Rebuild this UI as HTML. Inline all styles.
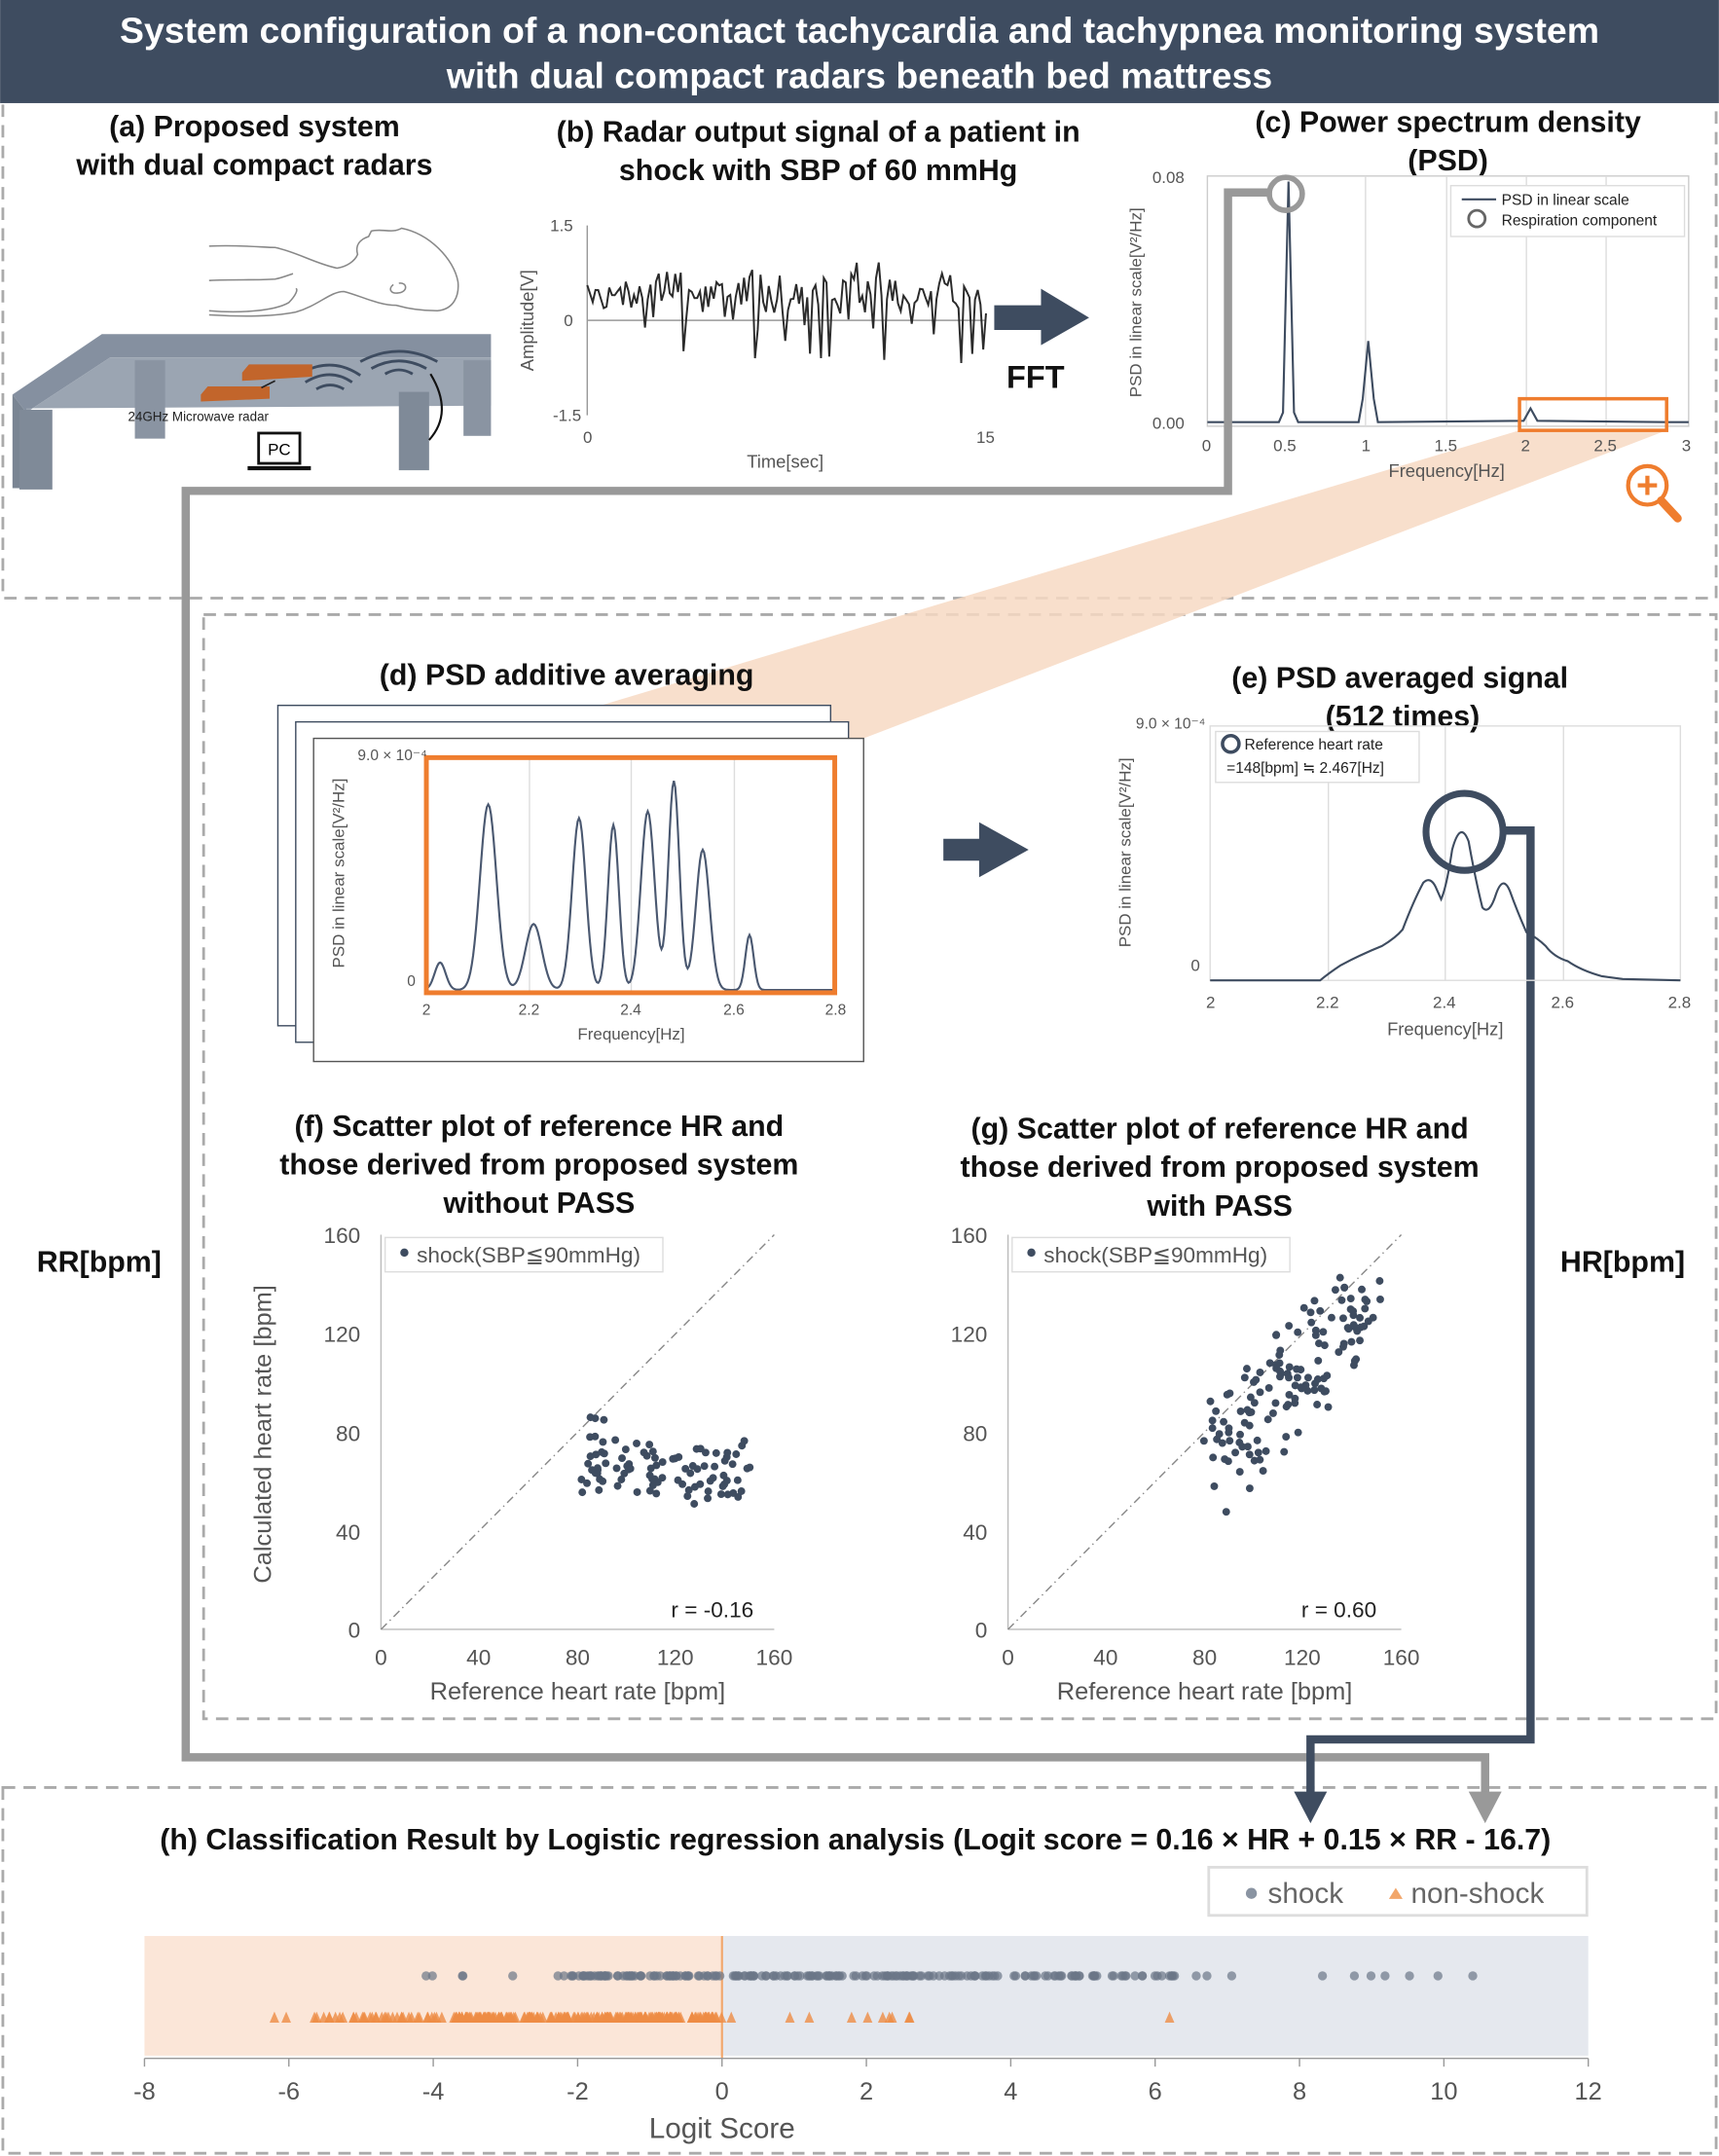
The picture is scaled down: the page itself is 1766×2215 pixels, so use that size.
<!DOCTYPE html>
<html><head><meta charset="utf-8"><style>
html,body{margin:0;padding:0;background:#fff}
svg{display:block}
text{font-family:"Liberation Sans",Arial,sans-serif}
.b{font-weight:bold;fill:#111}
.ax{fill:#555}
</style></head><body>
<svg id="s" width="1766" height="2215" viewBox="0 0 1250 1568" xmlns="http://www.w3.org/2000/svg">
<rect width="1250" height="1568" fill="#fff"/>
<rect x="0" y="0" width="1250" height="75" fill="#3e4c60"/>
<text x="625" y="31" text-anchor="middle" font-size="26.5" font-weight="bold" fill="#fff">System configuration of a non-contact tachycardia and tachypnea monitoring system</text>
<text x="625" y="64" text-anchor="middle" font-size="26.5" font-weight="bold" fill="#fff">with dual compact radars beneath bed mattress</text>
<g fill="none" stroke="#aaa" stroke-width="2" stroke-dasharray="9,6">
<path d="M2 76 V435 H1248 V76"/>
<rect x="148" y="447" width="1100" height="803"/>
<rect x="2" y="1300" width="1246" height="266"/>
</g>
<polygon points="1105,313 1212,313 607,545 310,551" fill="#f7d9c3" opacity="0.85"/>
<!-- (a) -->
<text x="185" y="99" text-anchor="middle" font-size="21.5" class="b">(a)  Proposed system</text>
<text x="185" y="127" text-anchor="middle" font-size="21.5" class="b">with dual compact radars</text>
<g fill="none" stroke="#888" stroke-width="1.1">
<path d="M152 179 C175 178 192 180 200 180 C215 183 230 192 245 195 C252 194 258 190 260 185 C258 178 262 174 268 172 L270 168 C278 166 285 170 292 166 C312 170 330 188 333 205 C334 215 330 225 318 226 C305 226 295 224 288 222 C275 222 262 215 250 212 C240 212 232 222 215 227 C195 231 170 230 152 229"/>
<path d="M152 226 C175 228 200 226 210 220 C215 215 217 210 215 210"/>
<path d="M152 204 C170 203 185 204 200 203 C205 202 210 200 213 199"/>
<path d="M286 207 C282 210 284 214 290 213 C297 212 296 205 290 206"/>
</g>
<polygon points="9,287 74,243 357,243 357,260 80,260 19,300" fill="#8590a0"/>
<polygon points="19,300 80,260 357,260 357,295 19,297" fill="#9ba5b2"/>
<polygon points="9,287 19,300 19,355 9,355" fill="#7a8593"/>
<rect x="14" y="298" width="24" height="58" fill="#7f8a98"/>
<rect x="98" y="262" width="22" height="57" fill="#8a94a2"/>
<rect x="290" y="285" width="22" height="57" fill="#7f8a98"/>
<rect x="337" y="262" width="20" height="55" fill="#8a94a2"/>
<g fill="none" stroke="#3e4c60" stroke-width="2">
<path d="M216 273 Q240 258 262 273"/><path d="M222 278 Q240 267 256 278"/><path d="M230 283 Q240 277 250 283"/>
<path d="M262 263 Q290 248 318 263"/><path d="M270 268 Q290 257 310 268"/><path d="M280 272 Q290 266 300 272"/>
</g>
<polygon points="146,287 151,281 196,281 196,290 146,292" fill="#c2652b"/>
<polygon points="176,271 181,265 227,265 227,274 176,277" fill="#c2652b"/>
<line x1="190" y1="282" x2="200" y2="277" stroke="#222" stroke-width="1.2"/>
<path d="M313 272 Q330 300 312 320" stroke="#111" stroke-width="1.5" fill="none"/>
<text x="93" y="306" font-size="9.5" fill="#222">24GHz Microwave radar</text>
<rect x="188" y="315" width="30" height="22" fill="#fff" stroke="#111" stroke-width="2"/>
<text x="203" y="331" font-size="12" font-family="Liberation Serif" text-anchor="middle">PC</text>
<rect x="180" y="339" width="46" height="3" fill="#111"/>
<!-- (b) -->
<text x="595" y="103" text-anchor="middle" font-size="21.5" class="b">(b) Radar output signal of a patient in</text>
<text x="595" y="131" text-anchor="middle" font-size="21.5" class="b">shock with SBP of 60 mmHg</text>
<line x1="427" y1="164" x2="427" y2="302" stroke="#999"/>
<line x1="427" y1="233" x2="717" y2="233" stroke="#999"/>
<g class="ax" font-size="12"><text x="400" y="168">1.5</text><text x="410" y="237">0</text><text x="402" y="306">-1.5</text><text x="424" y="322">0</text><text x="710" y="322">15</text>
<text x="571" y="340" font-size="13" text-anchor="middle">Time[sec]</text>
<text transform="translate(388,233) rotate(-90)" text-anchor="middle" font-size="13">Amplitude[V]</text></g>
<polyline id="sig" fill="none" stroke="#2b2b2b" stroke-width="1.4"/>
<polygon points="723,222 757,222 757,210 792,231 757,251 757,240 723,240" fill="#3e4c60"/>
<text x="753" y="282" text-anchor="middle" font-size="23" class="b">FFT</text>
<!-- (c) -->
<text x="1053" y="96" text-anchor="middle" font-size="21.5" class="b">(c) Power spectrum density</text>
<text x="1053" y="124" text-anchor="middle" font-size="21.5" class="b">(PSD)</text>
<rect x="878" y="128" width="350" height="182" fill="none" stroke="#ccc"/>
<g stroke="#ddd"><line x1="993" y1="128" x2="993" y2="310"/><line x1="1052" y1="128" x2="1052" y2="310"/><line x1="1110" y1="128" x2="1110" y2="310"/><line x1="1168" y1="128" x2="1168" y2="310"/></g>
<path d="M878 307 L930 307 L933 300 L937 132 L941 300 L944 307 L988 307 L991 290 L995 248 L999 290 L1002 307 L1108 306 L1113 297 L1118 306 L1212 307 L1228 307" fill="none" stroke="#3e4c60" stroke-width="1.5"/>
<g class="ax" font-size="12"><text x="838" y="133">0.08</text><text x="838" y="312">0.00</text>
<text x="874" y="328">0</text><text x="926" y="328">0.5</text><text x="990" y="328">1</text><text x="1043" y="328">1.5</text><text x="1106" y="328">2</text><text x="1159" y="328">2.5</text><text x="1223" y="328">3</text>
<text x="1052" y="347" font-size="13" text-anchor="middle">Frequency[Hz]</text>
<text transform="translate(830,220) rotate(-90)" text-anchor="middle" font-size="12">PSD in linear scale[V²/Hz]</text></g>
<rect x="1055" y="135" width="170" height="37" fill="#fff" stroke="#ddd"/>
<line x1="1063" y1="145" x2="1088" y2="145" stroke="#3e4c60" stroke-width="1.5"/>
<text x="1092" y="149" font-size="11" fill="#222">PSD in linear scale</text>
<circle cx="1074" cy="159" r="6" fill="none" stroke="#666" stroke-width="2"/>
<text x="1092" y="164" font-size="11" fill="#222">Respiration component</text>
<rect x="1105" y="290" width="107" height="23" fill="none" stroke="#ef7d2e" stroke-width="2.5"/>
<circle cx="1198" cy="353" r="14" fill="none" stroke="#ef7d2e" stroke-width="3"/>
<path d="M1191 353 H1205 M1198 346 V360" stroke="#ef7d2e" stroke-width="3"/>
<line x1="1208" y1="364" x2="1220" y2="377" stroke="#ef7d2e" stroke-width="6" stroke-linecap="round"/>
<path d="M925 140 H893 V357 H135 V1278 H1080 V1308" fill="none" stroke="#999" stroke-width="6"/>
<polygon points="1068,1303 1092,1303 1080,1326" fill="#999"/>
<circle cx="935" cy="141" r="12" fill="none" stroke="#999" stroke-width="4"/>
<path d="M1093 604 H1113 V1265 H953 V1310" fill="none" stroke="#3e4c60" stroke-width="6"/>
<polygon points="941,1303 965,1303 953,1326" fill="#3e4c60"/>
<!-- (d) -->
<text x="412" y="498" text-anchor="middle" font-size="21.5" class="b">(d) PSD additive averaging</text>
<rect x="202" y="513" width="402" height="233" fill="#fff" stroke="#3e4c60"/>
<rect x="215" y="525" width="402" height="233" fill="#fff" stroke="#3e4c60"/>
<rect x="228" y="537" width="400" height="235" fill="#fff" stroke="#555"/>
<g stroke="#ddd"><line x1="385" y1="551" x2="385" y2="722"/><line x1="459" y1="551" x2="459" y2="722"/><line x1="534" y1="551" x2="534" y2="722"/></g>
<path id="dcurve" fill="none" stroke="#4a5870" stroke-width="1.5"/>
<rect x="310" y="551" width="297" height="171" fill="none" stroke="#ef7d2e" stroke-width="3.5"/>
<g class="ax" font-size="11"><text x="260" y="553">9.0 × 10⁻⁴</text><text x="296" y="717">0</text>
<text x="307" y="738">2</text><text x="377" y="738">2.2</text><text x="451" y="738">2.4</text><text x="526" y="738">2.6</text><text x="600" y="738">2.8</text>
<text x="459" y="756" font-size="12" text-anchor="middle">Frequency[Hz]</text>
<text transform="translate(250,635) rotate(-90)" text-anchor="middle" font-size="12">PSD in linear scale[V²/Hz]</text></g>
<polygon points="686,610 712,610 712,598 748,618 712,638 712,626 686,626" fill="#3e4c60"/>
<!-- (e) -->
<text x="1018" y="500" text-anchor="middle" font-size="21.5" class="b">(e) PSD averaged signal</text>
<text x="1020" y="528" text-anchor="middle" font-size="21.5" class="b">(512 times)</text>
<rect x="880" y="528" width="342" height="185" fill="none" stroke="#ddd"/>
<g stroke="#ddd"><line x1="966" y1="528" x2="966" y2="713"/><line x1="1051" y1="528" x2="1051" y2="713"/><line x1="1137" y1="528" x2="1137" y2="713"/></g>
<path d="M880 713 L960 713 Q966 708 975 702 Q990 694 1005 688 Q1015 682 1020 676 Q1028 655 1035 642 Q1040 637 1044 645 L1048 654 Q1052 645 1056 618 Q1062 596 1068 612 Q1073 640 1078 660 Q1083 666 1088 650 Q1093 636 1098 648 Q1103 662 1110 678 Q1118 682 1124 688 Q1130 696 1140 699 Q1150 706 1165 710 L1180 712 L1222 713" fill="none" stroke="#3e4c60" stroke-width="1.5"/>
<g class="ax" font-size="12"><text x="826" y="530" font-size="11">9.0 × 10⁻⁴</text><text x="866" y="706">0</text>
<text x="877" y="733">2</text><text x="957" y="733">2.2</text><text x="1042" y="733">2.4</text><text x="1128" y="733">2.6</text><text x="1213" y="733">2.8</text>
<text x="1051" y="753" font-size="13" text-anchor="middle">Frequency[Hz]</text>
<text transform="translate(822,620) rotate(-90)" text-anchor="middle" font-size="12">PSD in linear scale[V²/Hz]</text></g>
<rect x="884" y="532" width="148" height="37" fill="#fff" stroke="#ddd"/>
<circle cx="895" cy="541" r="6" fill="none" stroke="#3e4c60" stroke-width="2.5"/>
<text x="905" y="545" font-size="11" fill="#222">Reference heart rate</text>
<text x="892" y="562" font-size="11" fill="#222">=148[bpm] ≒ 2.467[Hz]</text>
<circle cx="1065" cy="605" r="28" fill="none" stroke="#3e4c60" stroke-width="5"/>
<!-- (f) -->
<text x="392" y="826" text-anchor="middle" font-size="21.5" class="b">(f) Scatter plot of reference HR and</text>
<text x="392" y="854" text-anchor="middle" font-size="21.5" class="b">those derived from proposed system</text>
<text x="392" y="882" text-anchor="middle" font-size="21.5" class="b">without PASS</text>
<line x1="277" y1="898" x2="277" y2="1185" stroke="#bbb"/><line x1="277" y1="1185" x2="563" y2="1185" stroke="#bbb"/>
<line x1="277" y1="1185" x2="563" y2="898" stroke="#888" stroke-dasharray="6,3,1,3"/>
<g class="ax" font-size="16"><text x="262" y="904" text-anchor="end">160</text><text x="262" y="976" text-anchor="end">120</text><text x="262" y="1048" text-anchor="end">80</text><text x="262" y="1120" text-anchor="end">40</text><text x="262" y="1191" text-anchor="end">0</text>
<text x="277" y="1211" text-anchor="middle">0</text><text x="348" y="1211" text-anchor="middle">40</text><text x="420" y="1211" text-anchor="middle">80</text><text x="491" y="1211" text-anchor="middle">120</text><text x="563" y="1211" text-anchor="middle">160</text>
<text x="420" y="1236" font-size="18" text-anchor="middle">Reference heart rate [bpm]</text>
<text transform="translate(197,1043) rotate(-90)" text-anchor="middle" font-size="18">Calculated heart rate [bpm]</text>
<text x="548" y="1176" text-anchor="end" fill="#222">r = -0.16</text></g>
<rect x="280" y="900" width="202" height="25" fill="#fff" stroke="#ddd"/>
<circle cx="294" cy="911" r="3" fill="#3e4c60"/><text x="303" y="918" font-size="16" fill="#555">shock(SBP≦90mmHg)</text>
<g id="df" fill="#3e4c60"></g>
<!-- (g) -->
<text x="887" y="828" text-anchor="middle" font-size="21.5" class="b">(g) Scatter plot of reference HR and</text>
<text x="887" y="856" text-anchor="middle" font-size="21.5" class="b">those derived from proposed system</text>
<text x="887" y="884" text-anchor="middle" font-size="21.5" class="b">with PASS</text>
<line x1="733" y1="898" x2="733" y2="1185" stroke="#bbb"/><line x1="733" y1="1185" x2="1019" y2="1185" stroke="#bbb"/>
<line x1="733" y1="1185" x2="1019" y2="898" stroke="#888" stroke-dasharray="6,3,1,3"/>
<g class="ax" font-size="16"><text x="718" y="904" text-anchor="end">160</text><text x="718" y="976" text-anchor="end">120</text><text x="718" y="1048" text-anchor="end">80</text><text x="718" y="1120" text-anchor="end">40</text><text x="718" y="1191" text-anchor="end">0</text>
<text x="733" y="1211" text-anchor="middle">0</text><text x="804" y="1211" text-anchor="middle">40</text><text x="876" y="1211" text-anchor="middle">80</text><text x="947" y="1211" text-anchor="middle">120</text><text x="1019" y="1211" text-anchor="middle">160</text>
<text x="876" y="1236" font-size="18" text-anchor="middle">Reference heart rate [bpm]</text>
<text x="1001" y="1176" text-anchor="end" fill="#222">r = 0.60</text></g>
<rect x="736" y="900" width="202" height="25" fill="#fff" stroke="#ddd"/>
<circle cx="750" cy="911" r="3" fill="#3e4c60"/><text x="759" y="918" font-size="16" fill="#555">shock(SBP≦90mmHg)</text>
<g id="dg" fill="#3e4c60"></g>
<text x="72" y="925" text-anchor="middle" font-size="21.5" class="b">RR[bpm]</text>
<text x="1180" y="925" text-anchor="middle" font-size="21.5" class="b">HR[bpm]</text>
<!-- (h) -->
<text x="622" y="1345" text-anchor="middle" font-size="21.5" class="b">(h) Classification Result by Logistic regression analysis (Logit score = 0.16 × HR + 0.15 × RR - 16.7)</text>
<rect x="879" y="1358" width="275" height="35" fill="#fff" stroke="#ddd" stroke-width="2"/>
<circle cx="910" cy="1377" r="4" fill="#8a94a2"/><text x="922" y="1384" font-size="21" fill="#666">shock</text>
<polygon points="1015,1373 1020,1381 1010,1381" fill="#f2a66a"/><text x="1026" y="1384" font-size="21" fill="#666">non-shock</text>
<rect x="105" y="1408" width="420" height="87" fill="#fbe6d8"/>
<rect x="525" y="1408" width="630" height="87" fill="#e5e8ee"/>
<line x1="525" y1="1408" x2="525" y2="1497" stroke="#f2a66a" stroke-width="1.5"/>
<g id="dh"></g>
<line x1="105" y1="1497" x2="1155" y2="1497" stroke="#999"/>
<g id="tk" stroke="#999"></g>
<g class="ax" font-size="18" text-anchor="middle">
<text x="105" y="1527">-8</text><text x="210" y="1527">-6</text><text x="315" y="1527">-4</text><text x="420" y="1527">-2</text><text x="525" y="1527">0</text><text x="630" y="1527">2</text><text x="735" y="1527">4</text><text x="840" y="1527">6</text><text x="945" y="1527">8</text><text x="1050" y="1527">10</text><text x="1155" y="1527">12</text>
<text x="525" y="1555" font-size="21">Logit Score</text></g>
</svg>
<script>
var seed=7;function r(){seed=(seed*16807)%2147483647;return seed/2147483647;}
function g(){return (r()+r()+r()-1.5)/1.5;}
var NS="http://www.w3.org/2000/svg";
function el(p,t,a){var e=document.createElementNS(NS,t);for(var k in a)e.setAttribute(k,a[k]);p.appendChild(e);return e;}
var pts=[];for(var x=427;x<=717;x+=2){var y=212+g()*24+(r()<0.12?40:0);pts.push(x+","+y.toFixed(1));}
document.getElementById("sig").setAttribute("points",pts.join(" "));
var pk=[[320,700,4],[355,585,6],[388,672,6],[421,595,5],[446,600,4],[471,590,5],[490,568,4],[511,618,5],[545,680,3]];
var d="";for(var x=310;x<=607;x+=1){var y=720;for(var i=0;i<pk.length;i++){var p=pk[i];var h=720-p[1];y-=h*Math.exp(-Math.pow((x-p[0])/p[2],2)/2);}y=Math.max(y,551);d+=(d?"L":"M")+x+" "+y.toFixed(1);}
document.getElementById("dcurve").setAttribute("d",d);
var df=document.getElementById("df");
for(var i=0;i<95;i++){var x=422+r()*125,y=1072+g()*30;if(r()<0.08){x=425+r()*15;y=1030+r()*30;}el(df,"circle",{cx:x.toFixed(1),cy:y.toFixed(1),r:2.8});}
var dgg=document.getElementById("dg");
for(var i=0;i<140;i++){var t=r();var x=878+t*122+g()*12,y=1055-t*105+g()*60;el(dgg,"circle",{cx:x.toFixed(1),cy:Math.max(925,y).toFixed(1),r:2.8});}
var dh=document.getElementById("dh");
function X(v){return 525+v*52.5;}
for(var i=0;i<230;i++){var v;var q=r();if(q<0.65)v=-2+r()*8.3;else if(q<0.85)v=-2.5+r()*4;else v=-4.1+r()*14.4;if(i<3)v=[-4.1,-2.9,10.4][i];el(dh,"circle",{cx:X(v).toFixed(1),cy:1437,r:3.3,fill:"#6b7688",opacity:0.7});}
for(var i=0;i<260;i++){var v;var q=r();if(q<0.72)v=-3.7+r()*3.7;else if(q<0.9)v=-5.7+r()*2.2;else v=-6.2+r()*8.8;if(i<3)v=[-6.2,6.2,2.6][i];var x=X(v);el(dh,"polygon",{points:(x-3.5)+",1471 "+(x+3.5)+",1471 "+x+",1463",fill:"#ee8c45",opacity:0.8});}
var tk=document.getElementById("tk");for(var v=-8;v<=12;v+=2)el(tk,"line",{x1:X(v),y1:1497,x2:X(v),y2:1503});
</script>
</body></html>
